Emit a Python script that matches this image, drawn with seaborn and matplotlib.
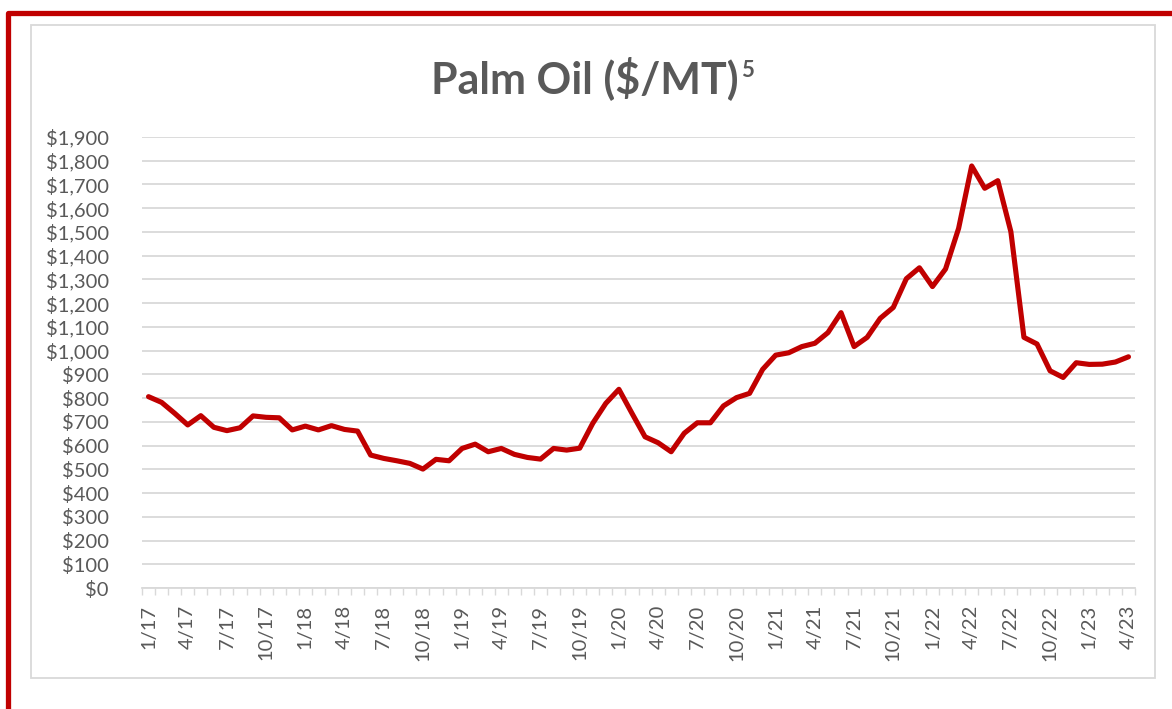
import numpy as np
import pandas as pd
import seaborn as sns
import matplotlib.pyplot as plt
from matplotlib.lines import Line2D
from matplotlib.patches import Rectangle
from matplotlib.ticker import FuncFormatter, FixedLocator

# Palm oil monthly price, $/MT, Jan 2017 -> Apr 2023
prix_2017 = [806, 782, 736, 687, 726, 677, 663, 675, 725, 719, 717, 666]
prix_2018 = [682, 666, 684, 668, 661, 560, 546, 536, 525, 501, 542, 536]
prix_2019 = [588, 606, 574, 588, 563, 550, 543, 588, 581, 589, 694, 778]
prix_2020 = [837, 736, 637, 612, 574, 652, 696, 696, 767, 802, 820, 921]
prix_2021 = [981, 991, 1017, 1031, 1076, 1160, 1017, 1056, 1136, 1182, 1303, 1349]
prix_2022 = [1270, 1344, 1515, 1778, 1684, 1716, 1501, 1056, 1028, 915, 887, 949]
prix_2023 = [942, 943, 952, 974]

tick_labels = ['1/17', '4/17', '7/17', '10/17', '1/18', '4/18', '7/18', '10/18',
               '1/19', '4/19', '7/19', '10/19', '1/20', '4/20', '7/20', '10/20',
               '1/21', '4/21', '7/21', '10/21', '1/22', '4/22', '7/22', '10/22',
               '1/23', '4/23']

prix = prix_2017 + prix_2018 + prix_2019 + prix_2020 + prix_2021 + prix_2022 + prix_2023
df = pd.DataFrame({'mois': np.arange(len(prix)), 'prix': prix})

# couleurs
ROUGE = '#c00000'
GRIS_TXT = '#595959'
GRIS_LIGNE = '#d9d9d9'

sns.set_theme(style='white')
plt.rcParams['font.family'] = ['Lato', 'DejaVu Sans']

W, H = 1172, 709
fig = plt.figure(figsize=(W / 100, H / 100), dpi=100)
ax = fig.add_axes([142 / W, 1 - 588 / H, (1135 - 142) / W, (588 - 137) / H])

sns.lineplot(data=df, x='mois', y='prix', ax=ax, color=ROUGE, linewidth=3.7)

# axe Y
ax.set_ylim(0, 1900)
ax.set_yticks(np.arange(0, 2000, 100))
ax.yaxis.set_major_formatter(FuncFormatter(lambda v, p: f"${v:,.0f}"))
ax.grid(axis='y', color=GRIS_LIGNE, linewidth=1.3)
ax.set_axisbelow(True)

# axe X : un label tous les 3 mois, petits traits entre chaque mois
ax.set_xlim(-0.5, len(prix) - 0.5)
ax.set_xticks(np.arange(0, len(prix), 3))
ax.set_xticklabels(tick_labels, rotation=90)
ax.xaxis.set_minor_locator(FixedLocator(np.arange(-0.5, len(prix), 1)))
ax.tick_params(axis='x', which='major', length=0, pad=12, labelsize=14.5, labelcolor=GRIS_TXT)
ax.tick_params(axis='x', which='minor', bottom=True, length=5, width=1, color=GRIS_LIGNE)
ax.tick_params(axis='y', length=0, pad=24, labelsize=14.5, labelcolor=GRIS_TXT)
ax.set_xlabel('')
ax.set_ylabel('')

for s in ['top', 'right', 'left']:
    ax.spines[s].set_visible(False)
ax.spines['bottom'].set_color(GRIS_LIGNE)
ax.spines['bottom'].set_linewidth(1.3)

# titre + exposant
titre = fig.text(585 / W, 1 - 93 / H, 'Palm Oil ($/MT)', ha='center', va='baseline',
                 fontsize=31, fontweight='bold', color=GRIS_TXT)
ax.annotate('5', xy=(1, 1), xycoords=titre, xytext=(1.5, -3), textcoords='offset points',
            ha='left', va='top', fontsize=16, fontweight='bold', color=GRIS_TXT,
            annotation_clip=False)

# cadre gris + bordure rouge
fig.patches.append(Rectangle((31 / W, 1 - 678 / H), (1155 - 31) / W, (678 - 25) / H,
                             transform=fig.transFigure, fill=False,
                             edgecolor=GRIS_LIGNE, linewidth=1.3))
fig.lines.append(Line2D([7.5 / W, 7.5 / W, 1.01], [-0.01, 1 - 12.5 / H, 1 - 12.5 / H],
                        transform=fig.transFigure, color=ROUGE, linewidth=3.8,
                        solid_joinstyle='round'))

fig.savefig('out.png', dpi=100)
